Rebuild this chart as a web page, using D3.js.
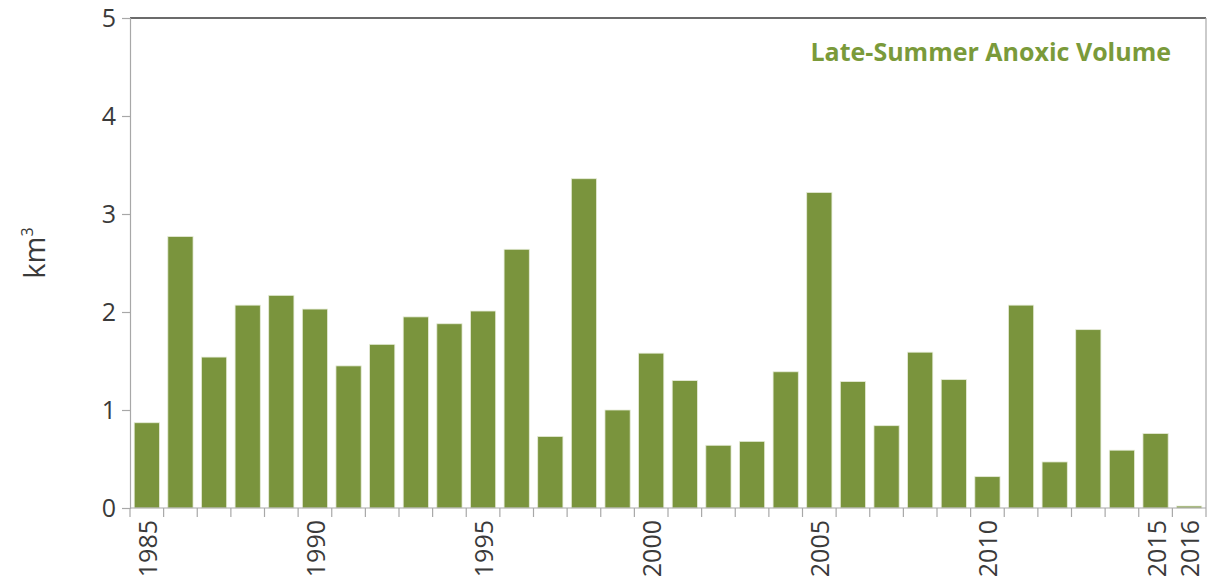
<!DOCTYPE html>
<html>
<head>
<meta charset="utf-8">
<script src="https://cdn.jsdelivr.net/npm/d3@7"></script>
<style>
  html, body { margin: 0; padding: 0; background: #fff; }
  svg { display: block; }
</style>
</head>
<body>
<svg id="chart" width="1208" height="583"></svg>
<script>
// Late-summer anoxic volume by year (km³)
const years = d3.range(1985, 2017);
const volumes = [
  0.87, 2.77, 1.54, 2.07, 2.17, 2.03, 1.45, 1.67, 1.95, 1.88,
  2.01, 2.64, 0.73, 3.36, 1.00, 1.58, 1.30, 0.64, 0.68, 1.39,
  3.22, 1.29, 0.84, 1.59, 1.31, 0.32, 2.07, 0.47, 1.82, 0.59,
  0.76, 0.02
];
const labelledYears = [1985, 1990, 1995, 2000, 2005, 2010, 2015, 2016];
const yTicks = [0, 1, 2, 3, 4, 5];
const title = "Late-Summer Anoxic Volume";
const yLabel = "km";

const data = years.map((y, i) => ({ year: y, value: volumes[i] }));

const svg = d3.select("#chart");
const plot = { left: 130, right: 1206, top: 18, bottom: 508 };
const barColor = "#7a943d";
const axisGray = "#a8a8a8";
const textColor = "#3a3a3a";
const font = "'Open Sans', 'Noto Sans', sans-serif";

const x = d3.scaleBand()
  .domain(years)
  .range([plot.left, plot.right])
  .paddingInner(0.25)
  .paddingOuter(0.125);

const y = d3.scaleLinear()
  .domain([0, 5])
  .range([plot.bottom, plot.top]);

// Bars
svg.append("g")
  .selectAll("rect")
  .data(data)
  .join("rect")
  .attr("x", d => x(d.year))
  .attr("width", x.bandwidth())
  .attr("y", d => y(d.value))
  .attr("height", d => y(0) - y(d.value))
  .attr("fill", barColor)
  .attr("stroke", "#e6ecd8")
  .attr("stroke-width", 0.8);

// Frame: top line dark, right side light gray
svg.append("line")
  .attr("x1", plot.left).attr("x2", plot.right)
  .attr("y1", plot.top).attr("y2", plot.top)
  .attr("stroke", "#3a3a3a").attr("stroke-width", 1.5);
svg.append("line")
  .attr("x1", plot.right).attr("x2", plot.right)
  .attr("y1", plot.top).attr("y2", plot.bottom)
  .attr("stroke", axisGray).attr("stroke-width", 1.2);

// Y axis
const yAxis = svg.append("g")
  .attr("transform", `translate(${plot.left},0)`)
  .call(d3.axisLeft(y).tickValues(yTicks).tickFormat(d3.format("d")).tickSize(8).tickPadding(6));
yAxis.select(".domain").attr("stroke", axisGray).attr("stroke-width", 1.2);
yAxis.selectAll(".tick line").attr("stroke", axisGray).attr("stroke-width", 1.2);
yAxis.selectAll(".tick text")
  .attr("fill", textColor)
  .style("font-family", font)
  .style("font-size", "25px");

// X axis: ticks at band boundaries
const xAxisG = svg.append("g");
xAxisG.append("line")
  .attr("x1", plot.left).attr("x2", plot.right)
  .attr("y1", plot.bottom).attr("y2", plot.bottom)
  .attr("stroke", axisGray).attr("stroke-width", 1.2);
const edgeScale = d3.scaleLinear().domain([0, years.length]).range([plot.left, plot.right]);
xAxisG.selectAll("line.tick")
  .data(d3.range(years.length + 1))
  .join("line")
  .attr("class", "tick")
  .attr("x1", i => edgeScale(i)).attr("x2", i => edgeScale(i))
  .attr("y1", plot.bottom).attr("y2", plot.bottom + 9)
  .attr("stroke", axisGray).attr("stroke-width", 1.2);

xAxisG.selectAll("text")
  .data(labelledYears)
  .join("text")
  .attr("transform", d => `translate(${x(d) + x.bandwidth() / 2 + 10},${plot.bottom + 12}) rotate(-90)`)
  .attr("text-anchor", "end")
  .attr("fill", textColor)
  .style("font-family", font)
  .style("font-size", "25px")
  .text(d => d);

// Y axis title with superscript
const yt = svg.append("text")
  .attr("transform", "translate(45,253) rotate(-90)")
  .attr("text-anchor", "middle")
  .attr("fill", textColor)
  .style("font-family", font)
  .style("font-size", "29px");
yt.append("tspan").text(yLabel);
yt.append("tspan").attr("dy", -12).style("font-size", "16px").text("3");

// Series title
svg.append("text")
  .attr("x", 1171)
  .attr("y", 61)
  .attr("text-anchor", "end")
  .attr("fill", "#7a9a3a")
  .style("font-family", font)
  .style("font-weight", "bold")
  .style("font-size", "25px")
  .text(title);
</script>
</body>
</html>
